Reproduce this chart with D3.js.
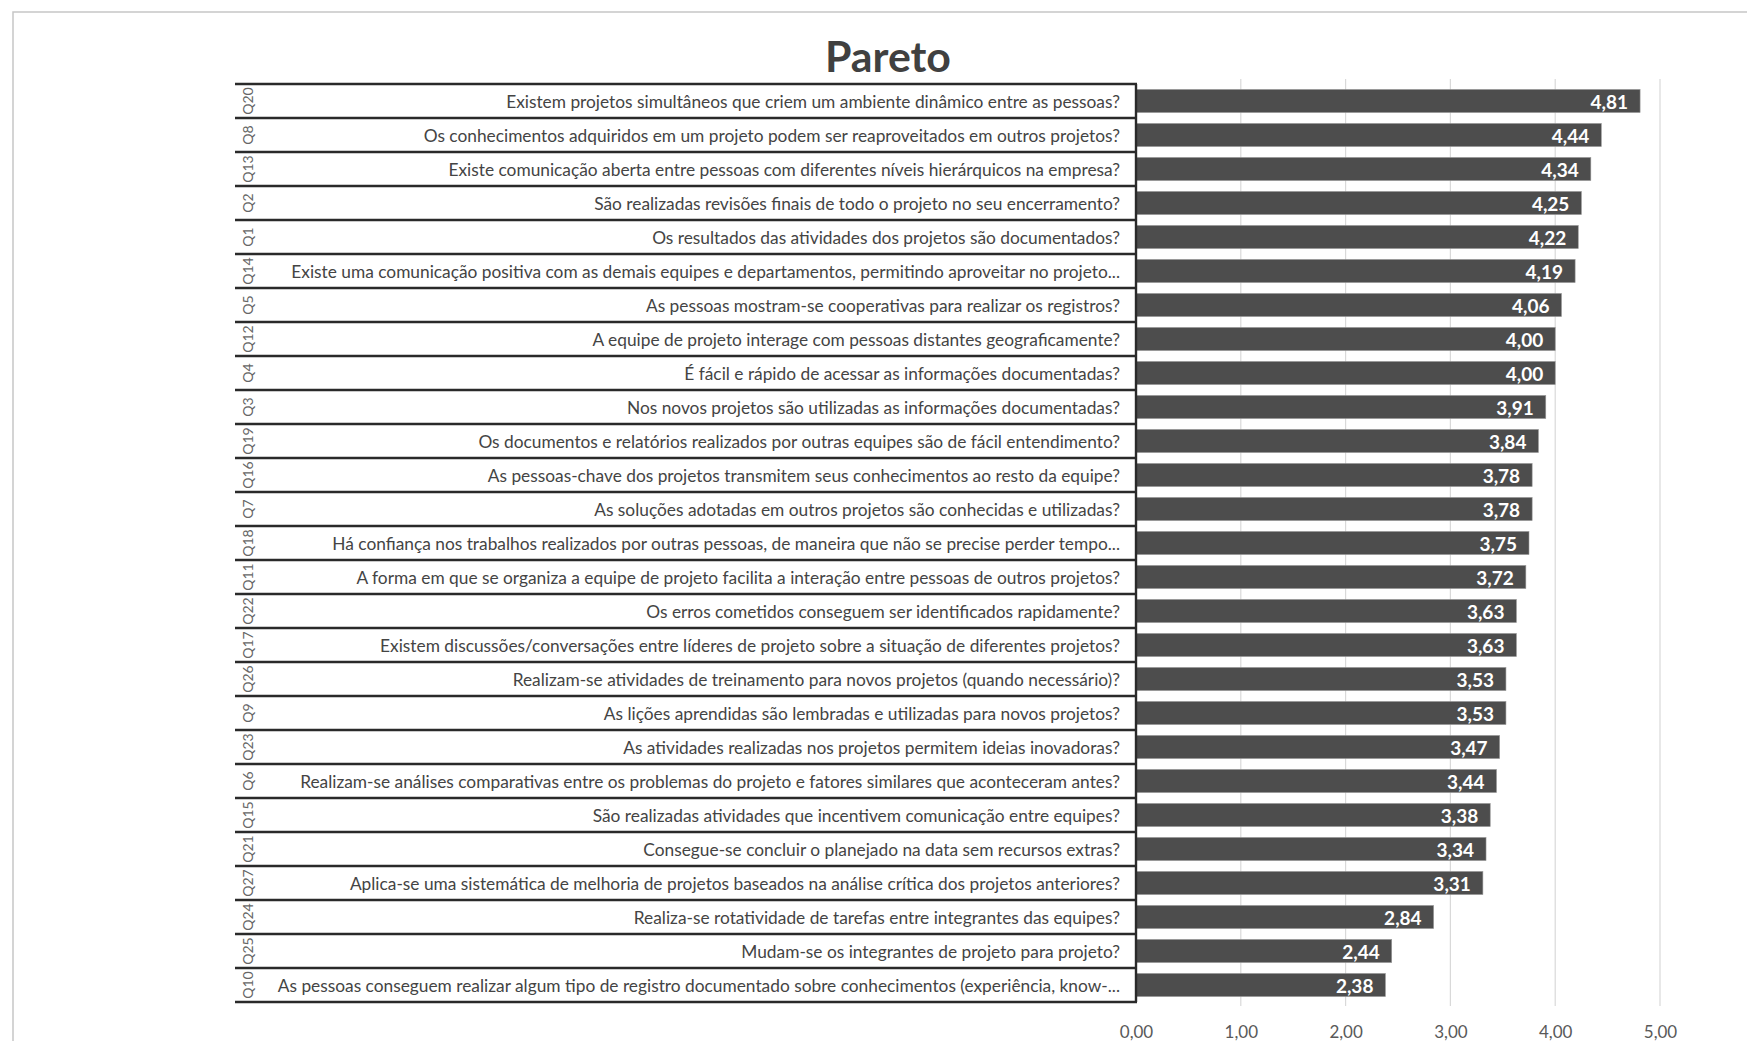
<!DOCTYPE html>
<html><head><meta charset="utf-8">
<script src="https://cdn.jsdelivr.net/npm/d3@7"></script>
<style>body{margin:0;background:#fff;}svg{display:block;}</style>
</head><body>
<svg id="chart" width="1747" height="1041"></svg>
<script>
const ids = ["Q20","Q8","Q13","Q2","Q1","Q14","Q5","Q12","Q4","Q3","Q19","Q16","Q7","Q18","Q11","Q22","Q17","Q26","Q9","Q23","Q6","Q15","Q21","Q27","Q24","Q25","Q10"];
const questions = [
"Existem projetos simultâneos que criem um ambiente dinâmico entre as pessoas?",
"Os conhecimentos adquiridos em um projeto podem ser reaproveitados em outros projetos?",
"Existe comunicação aberta entre pessoas com diferentes níveis hierárquicos na empresa?",
"São realizadas revisões finais de todo o projeto no seu encerramento?",
"Os resultados das atividades dos projetos são documentados?",
"Existe uma comunicação positiva com as demais equipes e departamentos, permitindo aproveitar no projeto...",
"As pessoas mostram-se cooperativas para realizar os registros?",
"A equipe de projeto interage com pessoas distantes geograficamente?",
"É fácil e rápido de acessar as informações documentadas?",
"Nos novos projetos são utilizadas as informações documentadas?",
"Os documentos e relatórios realizados por outras equipes são de fácil entendimento?",
"As pessoas-chave dos projetos transmitem seus conhecimentos ao resto da equipe?",
"As soluções adotadas em outros projetos são conhecidas e utilizadas?",
"Há confiança nos trabalhos realizados por outras pessoas, de maneira que não se precise perder tempo...",
"A forma em que se organiza a equipe de projeto facilita a interação entre pessoas de outros projetos?",
"Os erros cometidos conseguem ser identificados rapidamente?",
"Existem discussões/conversações entre líderes de projeto sobre a situação de diferentes projetos?",
"Realizam-se atividades de treinamento para novos projetos (quando necessário)?",
"As lições aprendidas são lembradas e utilizadas para novos projetos?",
"As atividades realizadas nos projetos permitem ideias inovadoras?",
"Realizam-se análises comparativas entre os problemas do projeto e fatores similares que aconteceram antes?",
"São realizadas atividades que incentivem comunicação entre equipes?",
"Consegue-se concluir o planejado na data sem recursos extras?",
"Aplica-se uma sistemática de melhoria de projetos baseados na análise crítica dos projetos anteriores?",
"Realiza-se rotatividade de tarefas entre integrantes das equipes?",
"Mudam-se os integrantes de projeto para projeto?",
"As pessoas conseguem realizar algum tipo de registro documentado sobre conhecimentos (experiência, know-..."
];
const values = [4.81,4.44,4.34,4.25,4.22,4.19,4.06,4.00,4.00,3.91,3.84,3.78,3.78,3.75,3.72,3.63,3.63,3.53,3.53,3.47,3.44,3.38,3.34,3.31,2.84,2.44,2.38];
const xTicks = [0,1,2,3,4,5];
const title = "Pareto";

(function(){
const data = ids.map((id,i)=>({id, q:questions[i], v:values[i]}));
const loc = d3.formatLocale({decimal:",", thousands:".", grouping:[3], currency:["R$",""]});
const fmt = loc.format(".2f");

const svg = d3.select("#chart");
const FONT = "Lato, 'Open Sans', sans-serif";

// outer frame
svg.append("rect").attr("x",13).attr("y",12).attr("width",1760).attr("height",1060)
  .attr("fill","none").attr("stroke","#c6c6c6").attr("stroke-width",1.5);

const tableLeft = 235, plotLeft = 1136, plotRight = 1660, tableTop = 84, tableBottom = 1002;
const x = d3.scaleLinear().domain([0,5]).range([plotLeft, plotRight]);
const yRows = d3.scaleBand().domain(ids).range([tableTop, tableBottom]).padding(0);
const yBars = d3.scaleBand().domain(ids).range([tableTop, tableBottom]).paddingInner(0.32).paddingOuter(0.16);

// gridlines
svg.append("g").selectAll("line").data(xTicks.slice(1)).join("line")
  .attr("x1",d=>x(d)).attr("x2",d=>x(d)).attr("y1",79).attr("y2",1006)
  .attr("stroke","#d9d9d9").attr("stroke-width",1.2);

// x axis labels
const xAxis = d3.axisBottom(x).tickValues(xTicks).tickFormat(fmt).tickSize(0).tickPadding(0);
const gx = svg.append("g").attr("transform","translate(0,1026)").call(xAxis);
gx.select(".domain").remove();
gx.selectAll("text").attr("font-family",FONT).attr("font-size",17).attr("fill","#595959");

// bars
svg.append("g").selectAll("rect").data(data).join("rect")
  .attr("x",x(0)).attr("y",d=>yBars(d.id)).attr("width",d=>x(d.v)-x(0)).attr("height",yBars.bandwidth())
  .attr("fill","#4d4d4d").attr("stroke","#9a9a9a").attr("stroke-width",0.6);

// value labels
svg.append("g").selectAll("text").data(data).join("text")
  .attr("x",d=>x(d.v)-12).attr("y",d=>yBars(d.id)+yBars.bandwidth()/2)
  .attr("text-anchor","end").attr("dominant-baseline","central")
  .attr("font-family",FONT).attr("font-weight","bold").attr("font-size",19).attr("fill","#ffffff")
  .text(d=>fmt(d.v));

// table lines
const bounds = ids.map(id=>yRows(id)).concat([tableBottom]);
svg.append("g").selectAll("line").data(bounds).join("line")
  .attr("x1",tableLeft).attr("x2",plotLeft+1).attr("y1",d=>d).attr("y2",d=>d)
  .attr("stroke","#2a2a2a").attr("stroke-width",2.6);
svg.append("line").attr("x1",plotLeft).attr("x2",plotLeft).attr("y1",tableTop).attr("y2",tableBottom)
  .attr("stroke","#2a2a2a").attr("stroke-width",2.4);

// question texts
const qt = svg.append("g").selectAll("text").data(data).join("text")
  .attr("x",1120).attr("y",d=>yRows(d.id)+yRows.bandwidth()/2)
  .attr("text-anchor","end").attr("dominant-baseline","central")
  .attr("font-family",FONT).attr("font-size",15).attr("fill","#444444")
  .text(d=>d.q);
let maxW = 0; qt.each(function(){ maxW = Math.max(maxW, this.getComputedTextLength()); });
qt.attr("font-size", 15 * 843 / maxW);

// Q ids rotated
svg.append("g").selectAll("text").data(data).join("text")
  .attr("transform",d=>`translate(247,${yRows(d.id)+yRows.bandwidth()/2}) rotate(-90)`)
  .attr("text-anchor","middle").attr("dominant-baseline","central")
  .attr("font-family",FONT).attr("font-size",14).attr("fill","#666")
  .text(d=>d.id);

// title
const t = svg.append("text").attr("x",888).attr("y",72).attr("text-anchor","middle")
  .attr("font-family",FONT).attr("font-weight","bold").attr("font-size",36).attr("fill","#404040")
  .text(title);
const tw = t.node().getComputedTextLength();
t.attr("font-size", 36*126/tw);
})();
</script>
</body></html>
